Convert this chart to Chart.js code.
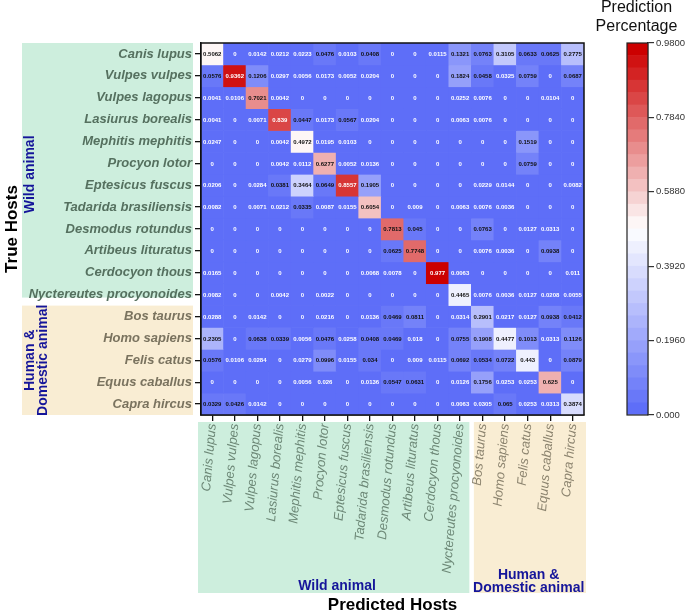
<!DOCTYPE html>
<html>
<head>
<meta charset="utf-8">
<script src="https://cdn.jsdelivr.net/npm/chart.js@4.4.1/dist/chart.umd.min.js"></script>
<style>
  html, body { margin: 0; padding: 0; background: #fff; }
  #wrap { position: relative; width: 685px; height: 616px; }
  #wrap canvas { position: absolute; left: 0; top: 0; }
</style>
</head>
<body>
<div id="wrap">
  <canvas id="heatmap" width="685" height="616"></canvas>
  <canvas id="colorbar" width="685" height="616"></canvas>
</div>
<script>
// hosts, same order on both axes
const hosts = ['Canis lupus', 'Vulpes vulpes', 'Vulpes lagopus', 'Lasiurus borealis',
  'Mephitis mephitis', 'Procyon lotor', 'Eptesicus fuscus', 'Tadarida brasiliensis',
  'Desmodus rotundus', 'Artibeus lituratus', 'Cerdocyon thous', 'Nyctereutes procyonoides',
  'Bos taurus', 'Homo sapiens', 'Felis catus', 'Equus caballus', 'Capra hircus'];
const wildCount = 12;

// one row per true host
const canisLupus     = [0.5062, 0, 0.0142, 0.0212, 0.0223, 0.0476, 0.0103, 0.0408, 0, 0, 0.0115, 0.1321, 0.0763, 0.3105, 0.0633, 0.0625, 0.2775];
const vulpesVulpes   = [0.0576, 0.9362, 0.1206, 0.0297, 0.0056, 0.0173, 0.0052, 0.0204, 0, 0, 0, 0.1824, 0.0458, 0.0325, 0.0759, 0, 0.0687];
const vulpesLagopus  = [0.0041, 0.0106, 0.7021, 0.0042, 0, 0, 0, 0, 0, 0, 0, 0.0252, 0.0076, 0, 0, 0.0104, 0];
const lasiurus       = [0.0041, 0, 0.0071, 0.839, 0.0447, 0.0173, 0.0567, 0.0204, 0, 0, 0, 0.0063, 0.0076, 0, 0, 0, 0];
const mephitis       = [0.0247, 0, 0, 0.0042, 0.4972, 0.0195, 0.0103, 0, 0, 0, 0, 0, 0, 0, 0.1519, 0, 0];
const procyon        = [0, 0, 0, 0.0042, 0.0112, 0.6277, 0.0052, 0.0136, 0, 0, 0, 0, 0, 0, 0.0759, 0, 0];
const eptesicus      = [0.0206, 0, 0.0284, 0.0381, 0.3464, 0.0649, 0.8557, 0.1905, 0, 0, 0, 0, 0.0229, 0.0144, 0, 0, 0.0082];
const tadarida       = [0.0082, 0, 0.0071, 0.0212, 0.0335, 0.0087, 0.0155, 0.6054, 0, 0.009, 0, 0.0063, 0.0076, 0.0036, 0, 0, 0];
const desmodus       = [0, 0, 0, 0, 0, 0, 0, 0, 0.7813, 0.045, 0, 0, 0.0763, 0, 0.0127, 0.0313, 0];
const artibeus       = [0, 0, 0, 0, 0, 0, 0, 0, 0.0625, 0.7748, 0, 0, 0.0076, 0.0036, 0, 0.0938, 0];
const cerdocyon      = [0.0165, 0, 0, 0, 0, 0, 0, 0.0068, 0.0078, 0, 0.977, 0.0063, 0, 0, 0, 0, 0.011];
const nyctereutes    = [0.0082, 0, 0, 0.0042, 0, 0.0022, 0, 0, 0, 0, 0, 0.4465, 0.0076, 0.0036, 0.0127, 0.0208, 0.0055];
const bosTaurus      = [0.0288, 0, 0.0142, 0, 0, 0.0216, 0, 0.0136, 0.0469, 0.0811, 0, 0.0314, 0.2901, 0.0217, 0.0127, 0.0938, 0.0412];
const homoSapiens    = [0.2305, 0, 0.0638, 0.0339, 0.0056, 0.0476, 0.0258, 0.0408, 0.0469, 0.018, 0, 0.0755, 0.1908, 0.4477, 0.1013, 0.0313, 0.1126];
const felisCatus     = [0.0576, 0.0106, 0.0284, 0, 0.0279, 0.0996, 0.0155, 0.034, 0, 0.009, 0.0115, 0.0692, 0.0534, 0.0722, 0.443, 0, 0.0879];
const equusCaballus  = [0, 0, 0, 0, 0.0056, 0.026, 0, 0.0136, 0.0547, 0.0631, 0, 0.0126, 0.1756, 0.0253, 0.0253, 0.625, 0];
const capraHircus    = [0.0329, 0.0426, 0.0142, 0, 0, 0, 0, 0, 0, 0, 0, 0.0063, 0.0305, 0.065, 0.0253, 0.0313, 0.3874];

const matrix = [canisLupus, vulpesVulpes, vulpesLagopus, lasiurus, mephitis, procyon,
  eptesicus, tadarida, desmodus, artibeus, cerdocyon, nyctereutes,
  bosTaurus, homoSapiens, felisCatus, equusCaballus, capraHircus];

// colour bar
const scaleMax = 0.98;
const nBands = 30;
const barTicks = [0, 0.196, 0.392, 0.588, 0.784, 0.98];
const barTickLabels = ['0.000', '0.1960', '0.3920', '0.5880', '0.7840', '0.9800'];

const FONT = '"Liberation Sans", Arial, sans-serif';
Chart.defaults.font.family = FONT;

const lowRGB = [94, 110, 248], midRGB = [255, 255, 255], highRGB = [204, 0, 0];
function cmap(t) {
  const a = t < 0.5 ? lowRGB : midRGB;
  const b = t < 0.5 ? midRGB : highRGB;
  const s = t < 0.5 ? t * 2 : (t - 0.5) * 2;
  const c = a.map((v, i) => Math.round(v + (b[i] - v) * s));
  return 'rgb(' + c.join(',') + ')';
}
const step = scaleMax / nBands;
function band(v) { return Math.min(nBands - 1, Math.floor(v / step)); }
function cellColor(v) { return cmap(band(v) / (nBands - 1)); }
function textColor(v) { const b = band(v); return (b === 0 || b >= 25) ? '#fff' : '#111'; }

const wildY = '#55705f', humanY = '#7a735f';
const wildX = '#6d8877', humanX = '#8c846f';
const navy = '#15159a';

const decorPlugin = {
  id: 'decor',
  beforeDraw(chart) {
    const {ctx, chartArea: a, scales} = chart;
    const rowB = scales.y.getPixelForValue(wildCount);
    const colB = (scales.x.getPixelForValue(wildCount - 1) + scales.x.getPixelForValue(wildCount)) / 2;
    ctx.save();
    ctx.fillStyle = '#cdeedd';
    ctx.fillRect(22, a.top, 171, rowB - 8 - a.top);
    ctx.fillRect(a.left - 3, a.bottom + 7, colB - 2 - (a.left - 3), 171);
    ctx.fillStyle = '#f9edd3';
    ctx.fillRect(22, rowB, 171, a.bottom - rowB);
    ctx.fillRect(colB + 2.5, a.bottom + 7, a.right + 2 - (colB + 2.5), 171);
    ctx.restore();
  },
  afterDraw(chart) {
    const {ctx, chartArea: a, scales} = chart;
    const rowB = scales.y.getPixelForValue(wildCount);
    const colB = (scales.x.getPixelForValue(wildCount - 1) + scales.x.getPixelForValue(wildCount)) / 2;
    ctx.save();
    ctx.fillStyle = navy;
    ctx.font = 'bold 14px ' + FONT;
    ctx.textAlign = 'center';
    ctx.textBaseline = 'middle';
    ctx.fillText('Wild animal', 337, 586);
    ctx.fillText('Human &', (colB + a.right) / 2 + 1, 575);
    ctx.fillText('Domestic animal', (colB + a.right) / 2 + 1, 588);
    ctx.translate(30, (a.top + rowB) / 2);
    ctx.rotate(-Math.PI / 2);
    ctx.fillText('Wild animal', 0, 0);
    ctx.restore();
    ctx.save();
    ctx.fillStyle = navy;
    ctx.font = 'bold 14px ' + FONT;
    ctx.textAlign = 'center';
    ctx.textBaseline = 'middle';
    ctx.translate(36, (rowB + a.bottom) / 2);
    ctx.rotate(-Math.PI / 2);
    ctx.fillText('Human &', 0, -6);
    ctx.fillText('Domestic animal', 0, 7);
    ctx.restore();
  }
};

const cellTextPlugin = {
  id: 'cellText',
  afterDatasetsDraw(chart) {
    const {ctx, chartArea: a} = chart;
    ctx.save();
    ctx.font = 'bold 6px ' + FONT;
    ctx.textAlign = 'center';
    ctx.textBaseline = 'middle';
    matrix.forEach((row, r) => {
      chart.getDatasetMeta(r).data.forEach((bar, c) => {
        const p = bar.getCenterPoint();
        ctx.fillStyle = textColor(row[c]);
        ctx.fillText(String(row[c]), p.x, p.y + 0.5);
      });
    });
    ctx.strokeStyle = '#111';
    ctx.lineWidth = 1.5;
    ctx.strokeRect(a.left, a.top, a.right - a.left, a.bottom - a.top);
    ctx.restore();
  }
};

new Chart(document.getElementById('heatmap'), {
  type: 'bar',
  data: {
    labels: hosts,
    datasets: matrix.map((row, r) => ({
      label: hosts[r],
      data: row.map(() => [r, r + 1]),
      backgroundColor: row.map(cellColor),
      borderWidth: 0,
      grouped: false,
      barPercentage: 1,
      categoryPercentage: 1
    }))
  },
  options: {
    responsive: false,
    animation: false,
    events: [],
    layout: { padding: { left: 0, right: 101, top: 43, bottom: 0 } },
    plugins: { legend: { display: false }, tooltip: { enabled: false } },
    scales: {
      x: {
        type: 'category',
        offset: true,
        grid: { display: true, drawOnChartArea: false, offset: false, tickLength: 6, color: '#111', lineWidth: 1.3 },
        border: { display: true, color: '#111', width: 1.5 },
        ticks: {
          autoSkip: false, minRotation: 85, maxRotation: 85, padding: 2,
          font: { size: 13, style: 'italic' },
          color: ctx => ctx.index < wildCount ? wildX : humanX
        },
        title: {
          display: true, text: 'Predicted Hosts', color: '#000',
          font: { size: 17, weight: 'bold' }, padding: { top: 0, bottom: 0 }
        },
        afterFit: s => { s.height = 201; }
      },
      y: { type: 'linear', min: 0, max: 17, reverse: true, display: false },
      yRows: {
        type: 'category',
        labels: hosts,
        position: 'left',
        offset: true,
        grid: { display: true, drawOnChartArea: false, offset: false, tickLength: 6, color: '#111', lineWidth: 1.3 },
        border: { display: true, color: '#111', width: 1.5 },
        ticks: {
          autoSkip: false, padding: 3,
          font: { size: 13, style: 'italic', weight: 'bold' },
          color: ctx => ctx.index < wildCount ? wildY : humanY
        },
        title: {
          display: true, text: 'True Hosts', color: '#000',
          font: { size: 17, weight: 'bold' }, padding: { top: 2, bottom: 0 }
        },
        afterFit: s => { s.width = 201; }
      }
    }
  },
  plugins: [decorPlugin, cellTextPlugin]
});

// colour bar chart
const barTitlePlugin = {
  id: 'barTitle',
  afterDraw(chart) {
    const {ctx, chartArea: a} = chart;
    ctx.save();
    ctx.strokeStyle = '#222';
    ctx.lineWidth = 1.2;
    ctx.strokeRect(a.left, a.top, a.right - a.left, a.bottom - a.top);
    ctx.fillStyle = '#111';
    ctx.font = '16px ' + FONT;
    ctx.textAlign = 'center';
    ctx.textBaseline = 'middle';
    const cx = (a.left + a.right) / 2 - 1;
    ctx.fillText('Prediction', cx, 8);
    ctx.fillText('Percentage', cx, 27);
    ctx.restore();
  }
};

const bands = Array.from({length: nBands}, (_, k) => k);
new Chart(document.getElementById('colorbar'), {
  type: 'bar',
  data: {
    labels: [''],
    datasets: bands.map(k => ({
      data: [[k * step, (k + 1) * step]],
      backgroundColor: cmap(k / (nBands - 1)),
      borderWidth: 0,
      grouped: false,
      barPercentage: 1,
      categoryPercentage: 1
    }))
  },
  options: {
    responsive: false,
    animation: false,
    events: [],
    layout: { padding: { left: 627, right: 0, top: 43, bottom: 201 } },
    plugins: { legend: { display: false }, tooltip: { enabled: false } },
    scales: {
      x: { display: false },
      y: {
        position: 'right',
        min: 0, max: scaleMax,
        afterBuildTicks: s => { s.ticks = barTicks.map(v => ({ value: v })); },
        afterTickToLabelConversion: s => {
          s.ticks.forEach((t, i) => { t.label = barTickLabels[i]; });
        },
        grid: { display: true, drawOnChartArea: false, tickLength: 6, color: '#333', lineWidth: 1.2 },
        border: { display: true, color: '#222', width: 1.2 },
        ticks: { padding: 2, color: '#333', font: { size: 9.5 } },
        afterFit: s => { s.width = 37; }
      }
    }
  },
  plugins: [barTitlePlugin]
});
</script>
</body>
</html>
